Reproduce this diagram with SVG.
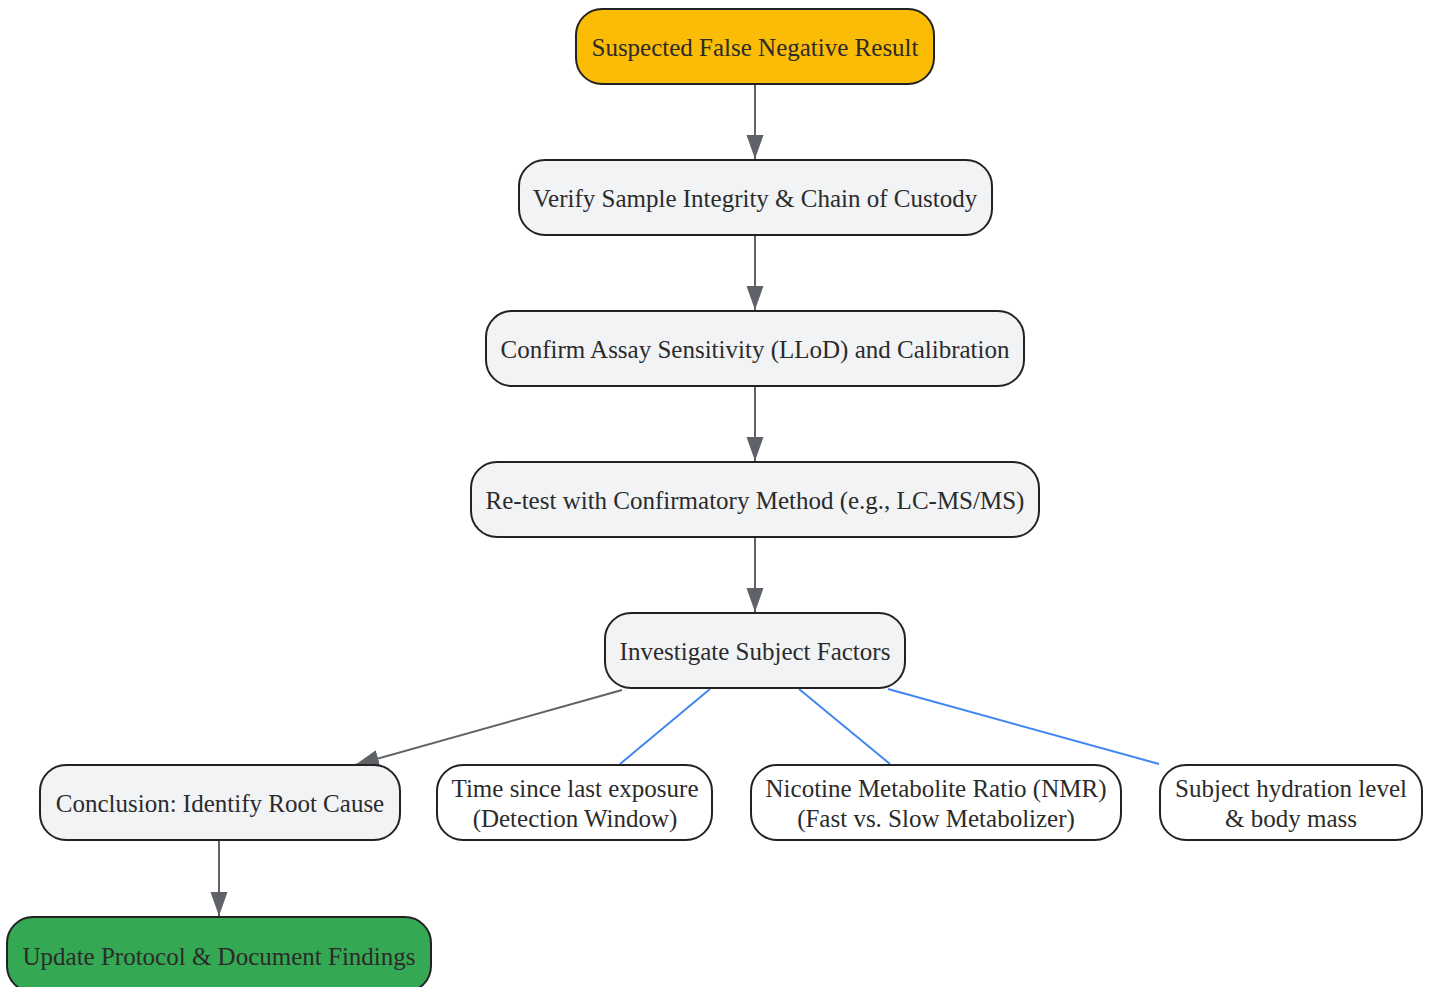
<svg xmlns="http://www.w3.org/2000/svg" width="1433" height="987" viewBox="0 0 1433 987">
<style>
.n{stroke:#222;stroke-width:2}
.g{fill:#f1f3f5}
.w{fill:#fff}
.t{font-family:"Liberation Serif","Times New Roman",serif;font-size:25px;fill:#2b2b2b;text-anchor:middle}
.e{fill:none;stroke:#5f6368;stroke-width:2}
.b{fill:none;stroke:#4285f4;stroke-width:2}
</style>
<defs>
<marker id="a" viewBox="0 0 24 18" refX="24" refY="9" markerWidth="24" markerHeight="18" orient="auto" markerUnits="userSpaceOnUse">
<path d="M0,0.5 L24,9 L0,17.5 Z" fill="#5f6368"/>
</marker>
</defs>
<g id="connectors">
<path class="e" d="M755,84 L755,159" marker-end="url(#a)"/>
<path class="e" d="M755,235 L755,310" marker-end="url(#a)"/>
<path class="e" d="M755,386 L755,461" marker-end="url(#a)"/>
<path class="e" d="M755,537 L755,612" marker-end="url(#a)"/>
<path class="e" d="M622,690 L355,765" marker-end="url(#a)"/>
<path class="b" d="M710,689 L620,764"/>
<path class="b" d="M799,689 L890,764"/>
<path class="b" d="M888,689 L1159,764"/>
<path class="e" d="M219,841 L219,916" marker-end="url(#a)"/>
</g>
<g id="n1"><rect class="n" x="576" y="9" width="358" height="75" rx="26" fill="#fbbc05"/><text class="t" x="755" y="56">Suspected False Negative Result</text></g>
<g id="n2"><rect class="n g" x="519" y="160" width="473" height="75" rx="26"/><text class="t" x="755" y="207">Verify Sample Integrity &amp; Chain of Custody</text></g>
<g id="n3"><rect class="n g" x="486" y="311" width="538" height="75" rx="26"/><text class="t" x="755" y="358">Confirm Assay Sensitivity (LLoD) and Calibration</text></g>
<g id="n4"><rect class="n g" x="471" y="462" width="568" height="75" rx="26"/><text class="t" x="755" y="509">Re-test with Confirmatory Method (e.g., LC-MS/MS)</text></g>
<g id="n5"><rect class="n g" x="605" y="613" width="300" height="75" rx="26"/><text class="t" x="755" y="660">Investigate Subject Factors</text></g>
<g id="n6"><rect class="n g" x="40" y="765" width="360" height="75" rx="26"/><text class="t" x="220" y="812">Conclusion: Identify Root Cause</text></g>
<g id="n7"><rect class="n w" x="437" y="765" width="275" height="75" rx="26"/><text class="t" x="575" y="797">Time since last exposure</text><text class="t" x="575" y="827">(Detection Window)</text></g>
<g id="n8"><rect class="n w" x="751" y="765" width="370" height="75" rx="26"/><text class="t" x="936" y="797">Nicotine Metabolite Ratio (NMR)</text><text class="t" x="936" y="827">(Fast vs. Slow Metabolizer)</text></g>
<g id="n9"><rect class="n w" x="1160" y="765" width="262" height="75" rx="26"/><text class="t" x="1291" y="797">Subject hydration level</text><text class="t" x="1291" y="827">&amp; body mass</text></g>
<g id="n10"><rect class="n" x="7" y="917" width="424" height="75" rx="26" fill="#34a853"/><text class="t" x="219" y="965">Update Protocol &amp; Document Findings</text></g>
</svg>
